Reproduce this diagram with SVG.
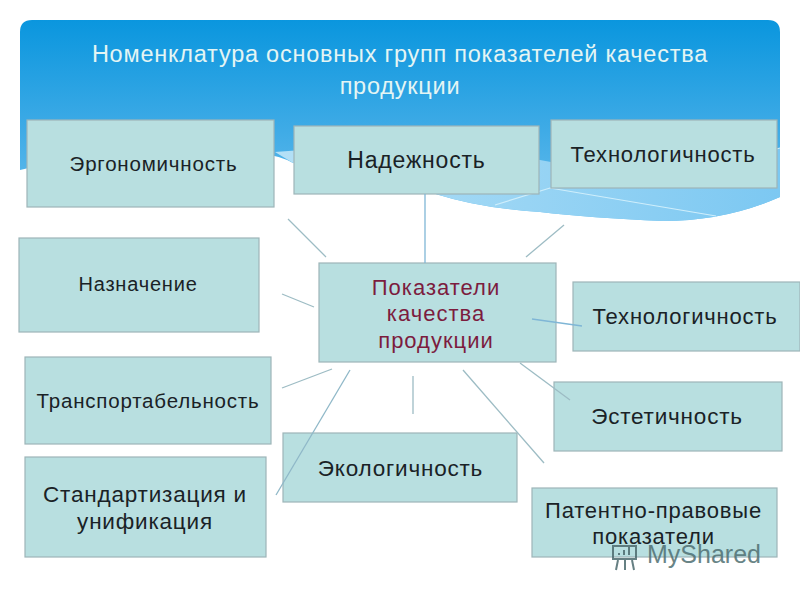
<svg xmlns="http://www.w3.org/2000/svg" width="800" height="600" viewBox="0 0 800 600">
<style>
.box{fill:#b8dfe0;stroke:#9db5b8;stroke-width:1.2}
.t{font-family:"Liberation Sans",sans-serif;fill:#1a2226;text-anchor:middle;letter-spacing:.8px}
.m{fill:#7c1c3e;font-size:22px;letter-spacing:1px}
.title{font-family:"Liberation Sans",sans-serif;fill:#e4f5f4;text-anchor:middle;font-size:23.5px;letter-spacing:.77px}
.c{stroke:#9dbcc4;stroke-width:1.3;fill:none}
.b{stroke:#7fb6d6}
</style>
<defs>
<linearGradient id="sky" x1="0" y1="0" x2="0" y2="1">
<stop offset="0" stop-color="#0a96de"/>
<stop offset="0.55" stop-color="#3fabe6"/>
<stop offset="1" stop-color="#6cc0ee"/>
</linearGradient>
<linearGradient id="band" x1="0" y1="0" x2="1" y2="0">
<stop offset="0" stop-color="#b4e0f6"/>
<stop offset="1" stop-color="#7cc8f2"/>
</linearGradient>
</defs>
<rect width="800" height="600" fill="#fff"/>
<g id="header">
<path d="M20 32Q20 20 32 20H768Q780 20 780 32V197Q725 221 663 221Q590 218 540 212Q480 208 439 195Q360 170 293 163Q270 150 200 148Q100 150 20 170Z" fill="url(#sky)"/>
<path d="M275 152Q420 140 540 160Q660 185 780 148V197Q725 221 663 221Q590 218 540 212Q480 208 439 195Q360 170 293 163Z" fill="url(#band)"/>
<path d="M495 205L550 188L716 216M720 165L780 148" fill="none" stroke="#cfeefb" stroke-width="1.2"/>
<text class="title" x="400" y="62">Номенклатура основных групп показателей качества</text>
<text class="title" x="400" y="94">продукции</text>
</g>
<g id="n1"><rect class="box" x="27" y="120" width="247" height="87"/><text class="t" x="153.500" y="171" font-size="20.500">Эргономичность</text></g>
<g id="n2"><rect class="box" x="294" y="126" width="245" height="68"/><text class="t" x="416.500" y="168" font-size="23">Надежность</text></g>
<g id="n3"><rect class="box" x="551" y="120" width="226" height="68"/><text class="t" x="663" y="162" font-size="22">Технологичность</text></g>
<g id="n4"><rect class="box" x="19" y="238" width="240" height="94"/><text class="t" x="138" y="291" font-size="20">Назначение</text></g>
<g id="n5"><rect class="box" x="319" y="263" width="237" height="99"/><text class="t m" x="436" y="295">Показатели</text><text class="t m" x="436" y="321">качества</text><text class="t m" x="436" y="348">продукции</text></g>
<g id="n6"><rect class="box" x="573" y="282" width="227" height="69"/><text class="t" x="685" y="324" font-size="22">Технологичность</text></g>
<g id="n7"><rect class="box" x="25" y="357" width="246" height="87"/><text class="t" x="148" y="408" font-size="20.500">Транспортабельность</text></g>
<g id="n8"><rect class="box" x="554" y="382" width="228" height="69"/><text class="t" x="667" y="424" font-size="22.500">Эстетичность</text></g>
<g id="n9"><rect class="box" x="283" y="433" width="234" height="69"/><text class="t" x="400.500" y="476" font-size="22.500">Экологичность</text></g>
<g id="n10"><rect class="box" x="25" y="457" width="241" height="100"/><text class="t" x="145" y="502" font-size="22.500">Стандартизация и</text><text class="t" x="145" y="529" font-size="22.500">унификация</text></g>
<g id="n11"><rect class="box" x="532" y="488" width="245" height="69"/><text class="t" x="653.500" y="518" font-size="22">Патентно-правовые</text><text class="t" x="653.500" y="544" font-size="22">показатели</text></g>
<g id="connectors">
<path class="c" d="M288 219L326 257"/>
<path class="c b" d="M425 194V263"/>
<path class="c" d="M564 225L526 257"/>
<path class="c" d="M282 294L314 307"/>
<path class="c b" d="M532 319L582 326"/>
<path class="c" d="M282 388L332 369"/>
<path class="c" d="M520 363L570 400"/>
<path class="c" d="M413 376V414"/>
<path class="c" d="M463 370L544 463"/>
<path class="c" d="M350 370L276 495" style="stroke:#8fb8c8"/>
</g>
<g id="watermark" opacity="0.85">
<g fill="none" stroke="#4c6a6e" stroke-width="2">
<path d="M613 546H636V559H613Z"/>
<path d="M618 560L616 570M625 560V570M632 560L634 570"/>
<path d="M619 555V553M624 555V550M629 555V547"/>
</g>
<text x="647" y="563" font-family="'Liberation Sans',sans-serif" font-size="25" fill="#4f6f72">MyShared</text>
</g>
</svg>
